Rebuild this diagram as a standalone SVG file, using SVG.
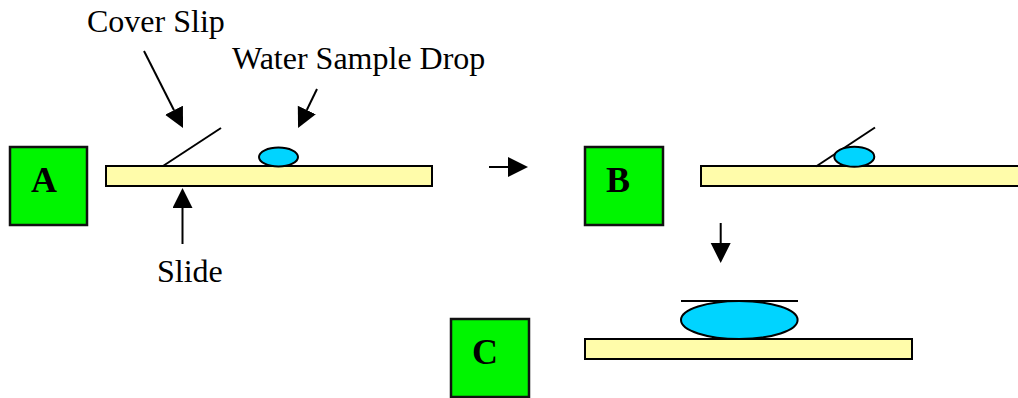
<svg xmlns="http://www.w3.org/2000/svg" width="1018" height="398" viewBox="0 0 1018 398">
<style>
.box{fill:#00f500;stroke:#111;stroke-width:2.5}
.lbl{font-family:"Liberation Serif","Times New Roman",serif;font-weight:bold;font-size:36px;fill:#000;text-anchor:middle}
.txt{font-family:"Liberation Serif","Times New Roman",serif;font-size:32px;fill:#000}
.slide{fill:#fffcaa;stroke:#000;stroke-width:2}
.drop{fill:#00d4ff;stroke:#000;stroke-width:2}
.cs{stroke:#000;stroke-width:2;fill:none}
.arr{stroke:#000;stroke-width:2;fill:none;marker-end:url(#ah)}
</style>
<defs>
<marker id="ah" markerUnits="userSpaceOnUse" markerWidth="21" markerHeight="21" refX="0" refY="10" orient="auto" viewBox="0 0 21 21">
<path d="M0,0 L20,10 L0,20 z" fill="#000"/>
</marker>
</defs>
<rect width="1018" height="398" fill="#fff"/>
<g id="stageA">
<rect class="box" x="10" y="147" width="77" height="78"/>
<text class="lbl" x="44" y="192">A</text>
<rect class="slide" x="106" y="166" width="326" height="20"/>
<line class="cs" x1="163" y1="166" x2="221" y2="128"/>
<ellipse class="drop" cx="278.5" cy="157" rx="19.5" ry="9.5"/>
</g>
<g id="stageB">
<rect class="box" x="585" y="147" width="78" height="78"/>
<text class="lbl" x="618" y="192">B</text>
<rect class="slide" x="701" y="166" width="327" height="20"/>
<line class="cs" x1="816" y1="166.5" x2="875" y2="127.5"/>
<ellipse class="drop" cx="854.3" cy="156.7" rx="20" ry="10"/>
</g>
<g id="stageC">
<rect class="box" x="451" y="319" width="78" height="78"/>
<text class="lbl" x="485" y="364">C</text>
<rect class="slide" x="585" y="339" width="327" height="20"/>
<ellipse class="drop" cx="739.3" cy="320" rx="58.3" ry="19"/>
<line class="cs" x1="681" y1="301" x2="798" y2="301"/>
</g>
<g id="labels">
<text class="txt" x="87" y="32">Cover Slip</text>
<text class="txt" x="232" y="69">Water Sample Drop</text>
<text class="txt" x="157" y="282">Slide</text>
</g>
<g id="connectors">
<line class="arr" x1="144" y1="51" x2="174" y2="110.2"/>
<line class="arr" x1="317" y1="89" x2="306.8" y2="110"/>
<line class="arr" x1="182.5" y1="244" x2="182.5" y2="208"/>
<line class="arr" x1="489" y1="167" x2="508" y2="167"/>
<line class="arr" x1="720.7" y1="223" x2="720.7" y2="243"/>
</g>
</svg>
